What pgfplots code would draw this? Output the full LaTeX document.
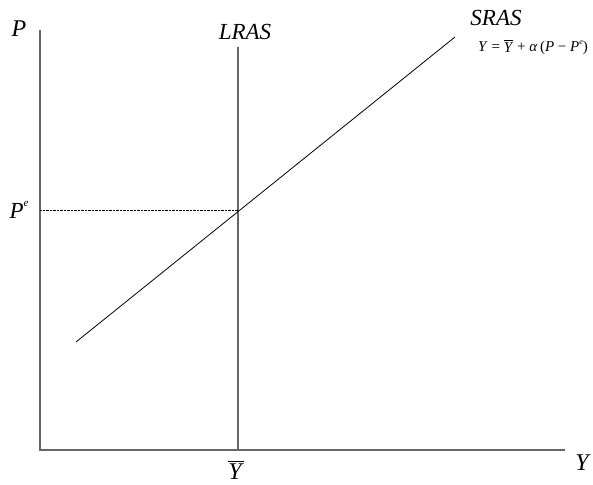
\documentclass[border=0pt]{standalone}
\usepackage{pgfplots}
\pgfplotsset{compat=1.18}
\usepackage{fontspec}
\setmainfont{Liberation Serif}
\newcommand{\barY}[1]{\vbox{\hrule height #1\kern2pt\hbox{\textit{Y}}}}
\begin{document}
\begin{tikzpicture}
\begin{axis}[
  name=main, anchor=south west, at={(0,0)},
  scale only axis, width=593pt, height=484pt,
  xmin=0, xmax=593, ymin=0, ymax=484,
  axis lines=none, clip=false,
]
% axes
\addplot[gray!80!black, line width=1.1pt] coordinates {(40,454) (40,34) (565,34)};
% LRAS
\addplot[gray!80!black, line width=1.1pt] coordinates {(238,437) (238,34)};
% SRAS
\addplot[black, line width=0.8pt] coordinates {(76,142) (455,447)};
% P^e dotted
\addplot[black, line width=0.4pt, densely dotted] coordinates {(40,274) (238,274)};
\node[inner sep=0pt, font=\fontsize{24}{26}\selectfont] at (axis cs:19,455) {\textit{P}};
\node[inner sep=0pt, font=\fontsize{24}{26}\selectfont] at (axis cs:583,21) {\textit{Y}};
\node[inner sep=0pt, font=\fontsize{23}{26}\selectfont] at (axis cs:19,274) {\textit{P}\raisebox{1.1ex}{\fontsize{11}{12}\selectfont\textit{e}}};
\node[inner sep=0pt, font=\fontsize{24}{26}\selectfont] at (axis cs:236,14) {\barY{1pt}};
\node[inner sep=0pt, font=\fontsize{23}{26}\selectfont] at (axis cs:245,452) {\textit{LRAS}};
\node[inner sep=0pt, font=\fontsize{23}{26}\selectfont] at (axis cs:496,466) {\textit{SRAS}};
\node[inner sep=0pt, font=\fontsize{15}{17}\selectfont] at (axis cs:533,437) {\textit{Y} = \raisebox{-0.15ex}{\barY{0.6pt}} + \textit{α}\,(\textit{P} − \textit{P}\raisebox{0.9ex}{\fontsize{8}{9}\selectfont\textit{e}})};
\end{axis}
\pgfresetboundingbox
\path (0,0) rectangle (593pt,484pt);
\end{tikzpicture}
\end{document}
